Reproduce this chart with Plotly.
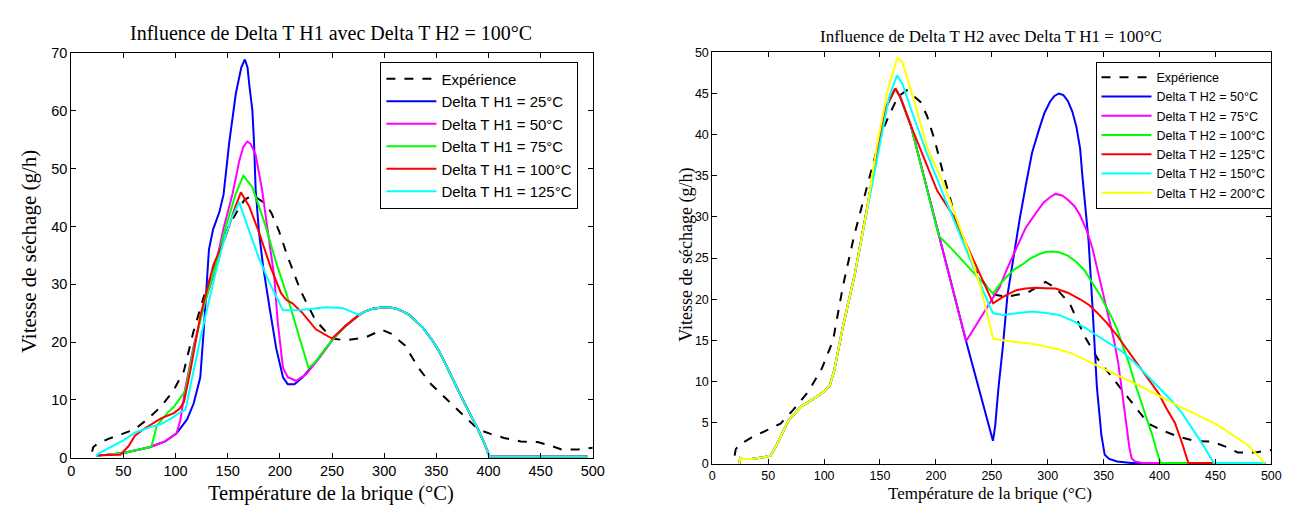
import plotly.graph_objects as go

# ---------------- data : experiment (shared by both panels) ----------------
exp_x = [20, 21, 25, 35, 49, 61, 72, 86, 98, 108, 117, 127, 139, 151, 158, 166, 174, 186, 192, 199,
         207, 213, 220, 234, 250, 263, 282, 298, 307, 320, 333, 345, 361, 377, 390, 402, 415, 431,
         447, 459, 470, 486, 500]
exp_y = [1.0, 1.8, 2.4, 3.2, 4.1, 4.9, 6.5, 8.8, 11.6, 15.0, 21.7, 27.8, 34.0, 40.1, 42.3, 44.6, 45.4,
         44.0, 42.3, 39.3, 35.0, 32.0, 28.8, 23.8, 20.6, 20.3, 20.8, 22.1, 21.4, 19.4, 15.5, 12.7, 9.9,
         7.2, 4.9, 4.1, 3.4, 2.8, 2.7, 2.1, 1.4, 1.4, 1.7]

# ---------------- data : left panel (Delta T H2 = 100 °C) ----------------
tail_x = [263, 270, 276, 282, 288, 296, 304, 311, 318, 324, 329, 337, 345, 352, 358, 365, 371, 376,
          381, 386, 390, 396, 401, 495]
tail_y = [22.8, 23.9, 24.7, 25.3, 25.7, 25.95, 26.0, 25.8, 25.3, 24.7, 23.9, 22.5, 20.6, 18.6, 16.5,
          14.0, 11.6, 9.8, 8.0, 6.4, 4.9, 2.5, 0.2, 0.2]

h1_25_x = [24, 50, 75, 90, 101, 111, 117.4, 123.7, 127, 129.5, 132, 136, 142, 146, 151.5, 157.8, 163,
           166.4, 169, 171, 173.6, 175.2, 176.8, 180, 184, 190, 196.5, 203, 207.6, 214, 221.8, 234.5, 250]
h1_25_y = [0.3, 0.8, 1.8, 2.8, 4.2, 6.6, 9.4, 13.9, 22, 30, 36, 39.5, 42.5, 45.5, 54.6, 63, 67.5,
           68.9, 67.5, 64, 60.2, 54.6, 46.3, 39, 33, 26.1, 18.9, 13.9, 12.7, 12.7, 13.9, 16.6, 20.3]

h1_50_x = [24, 50, 75, 90, 101, 104.7, 109.5, 117.4, 126.9, 136.4, 145.9, 154.7, 161, 165, 168.8, 172,
           176.8, 183, 189.4, 194.5, 198, 203, 207.6, 215.5, 225, 237.7, 250]
h1_50_y = [0.3, 0.8, 1.8, 2.8, 4.2, 6.6, 12.2, 19.4, 26.1, 31.7, 39.6, 45.7, 51.3, 53.8, 54.7, 54.3,
           52.4, 46.3, 37.9, 31.5, 23.4, 15.5, 13.9, 13.3, 14.4, 17.2, 20.3]

h1_75_x = [24, 50, 75, 77, 82, 92, 98.4, 109.5, 117.4, 126.9, 139.6, 148.4, 157.8, 165, 173.6, 186.3,
           196, 206, 227.5, 234.5, 242, 250]
h1_75_y = [0.3, 0.8, 1.8, 2.0, 5.5, 7.7, 8.8, 11.6, 18.9, 26.1, 34.0, 40.1, 45.7, 48.8, 46.8, 40.1,
           34.0, 28.5, 15.5, 16.6, 18.5, 20.3]

h1_100_x = [24, 47, 55, 61, 70, 80, 86, 98.4, 104, 108, 114.2, 123.7, 136.4, 148.4, 156.3, 162.6,
            170.5, 180, 191, 201, 206, 212, 221.8, 234.5, 250]
h1_100_y = [0.4, 0.5, 2.0, 3.8, 5.0, 6.2, 6.8, 7.7, 8.5, 9.6, 15.0, 24.5, 33.4, 38.4, 42.9, 45.9,
            43.5, 39.0, 33.0, 28.5, 27.3, 26.7, 25.0, 22.2, 20.6]

h1_125_x = [24, 26, 50, 61, 76, 86, 96, 104, 109.5, 114.2, 123.7, 136.4, 145.2, 153.1, 161, 168.8,
            180, 189.4, 193.4, 203, 218.7, 244, 259.8, 275.6]
h1_125_y = [0.2, 0.7, 3.0, 4.3, 5.3, 5.8, 6.8, 7.8, 8.3, 12.2, 20.6, 30.5, 36.8, 41.2, 44.2, 40.1,
            34.5, 30.5, 29.0, 25.5, 25.5, 26.0, 25.9, 24.7]

# ---------------- data : right panel (Delta T H1 = 100 °C) ----------------
rise_x = [24, 25, 26, 35, 46, 52, 57.6, 68.6, 79.7, 94, 101.7, 105, 109, 116.4, 127.4, 133.4, 138.4]
rise_y = [0, 0.7, 0.6, 0.6, 0.8, 1.0, 2.3, 5.4, 7.0, 8.2, 9.0, 9.5, 11.3, 16.4, 23.0, 27.2, 31.0]

h2_50_x = [148, 156, 163.7, 168, 177.6, 202.6, 227, 251, 253, 256, 260, 264, 268.8, 275, 280.6, 286,
           292.4, 297, 302, 306, 310, 314, 318, 322, 325.6, 329, 331, 334, 336.6, 340, 344, 348, 351,
           355, 362, 375, 495]
h2_50_y = [38.5, 43.5, 45.6, 44.6, 41.1, 27.7, 14.9, 2.8, 4.6, 9.3, 14.4, 20.5, 24.6, 29.8, 34.0,
           37.8, 40.7, 42.6, 44.0, 44.7, 45.0, 44.8, 44.1, 42.8, 41.0, 38.3, 35.0, 31.0, 27.0, 19.2, 9.3,
           3.5, 1.1, 0.6, 0.3, 0.1, 0.1]

h2_75_x = [148, 156, 163.7, 168, 177.6, 202.6, 227, 233, 239.4, 246, 251, 257, 264, 271.8, 280, 289.5,
           296, 302, 307, 313, 318, 324, 329, 335, 340, 345, 351, 355, 359, 363, 366, 370, 373, 375,
           378, 385, 495]
h2_75_y = [38.5, 43.5, 45.6, 44.6, 41.1, 27.7, 14.9, 16.2, 17.6, 19.2, 20.3, 21.5, 23.8, 26.2, 28.6,
           30.5, 31.7, 32.4, 32.8, 32.6, 32.1, 31.3, 30.2, 28.3, 26.2, 23.3, 20.0, 17.5, 15.2, 12.3,
           9.3, 5.0, 2.0, 0.7, 0.3, 0.1, 0.1]

h2_100_x = [148, 156, 163.7, 168, 177.6, 202.6, 215, 227.6, 240, 251, 257, 263, 270, 278, 285,
            292.6, 298, 303.6, 310, 318, 326, 333, 340, 347.6, 355, 362, 368, 373, 378, 384, 389,
            393.5, 397, 400.9, 495]
h2_100_y = [38.5, 43.5, 45.6, 44.6, 41.1, 27.7, 26.0, 24.2, 22.3, 20.7, 21.8, 22.7, 23.6, 24.3, 25.0,
            25.5, 25.75, 25.8, 25.7, 25.3, 24.5, 23.5, 22.0, 20.3, 18.4, 16.4, 14.0, 12.1, 9.8, 7.4,
            5.3, 3.5, 1.8, 0.1, 0.1]

h2_125_x = [148, 156, 163.7, 168, 177.6, 190, 201.1, 215.8, 233, 251.2, 260, 271.8, 280, 289.5, 298,
            307, 318, 329, 337, 344, 353, 362, 371, 380.7, 390, 399, 406, 413.7, 420, 425.8, 495]
h2_125_y = [38.5, 43.5, 45.6, 44.6, 41.1, 37.0, 33.2, 30.1, 24.9, 19.5, 20.3, 21.1, 21.3, 21.4, 21.35,
            21.3, 20.8, 20.0, 19.3, 18.4, 17.1, 15.6, 13.9, 12.1, 10.4, 8.6, 6.8, 5.0, 2.6, 0.1, 0.1]

h2_150_x = [148, 158, 165.2, 170, 180, 192.3, 207, 221.7, 235, 248.2, 251.2, 260, 272, 286.5, 300,
            310, 322, 334, 344, 355, 366, 377, 388, 399, 410, 420, 428, 438, 448.6, 495]
h2_150_y = [37.5, 44.5, 47.2, 46.2, 42.2, 37.6, 32.6, 27.7, 23.3, 19.1, 18.3, 18.1, 18.3, 18.5, 18.3,
            18.1, 17.4, 16.5, 15.6, 14.7, 13.7, 12.4, 10.9, 9.4, 7.8, 6.2, 4.6, 2.5, 0.1, 0.1]

h2_200_x = [147, 157, 165.5, 170, 180, 192.3, 207, 218, 230.6, 240, 251.2, 265.9, 286.5, 300, 310,
            322, 344, 366, 388, 410, 430, 451, 479, 494]
h2_200_y = [38.5, 45.5, 49.3, 48.8, 44.4, 38.4, 34.0, 30.0, 25.4, 21.5, 15.2, 14.9, 14.6, 14.2, 13.9,
            13.4, 12.0, 10.6, 9.1, 7.5, 6.2, 4.8, 2.3, 0.1]

left_names = ["Delta T H1 = 25°C", "Delta T H1 = 50°C", "Delta T H1 = 75°C",
              "Delta T H1 = 100°C", "Delta T H1 = 125°C"]
right_names = ["Delta T H2 = 50°C", "Delta T H2 = 75°C", "Delta T H2 = 100°C",
               "Delta T H2 = 125°C", "Delta T H2 = 150°C", "Delta T H2 = 200°C"]
colors = ["#0000FF", "#FF00FF", "#00FF00", "#FF0000", "#00FFFF", "#FFFF00"]

x_ticks = [0, 50, 100, 150, 200, 250, 300, 350, 400, 450, 500]
y_ticks_left = [0, 10, 20, 30, 40, 50, 60, 70]
y_ticks_right = [0, 5, 10, 15, 20, 25, 30, 35, 40, 45, 50]

# ---------------- figure ----------------
fig = go.Figure()
W, H = 1302, 507

fig.add_trace(go.Scatter(x=exp_x, y=exp_y, mode="lines", name="Expérience",
                         line=dict(color="black", width=2, dash="dash"),
                         xaxis="x", yaxis="y", legend="legend", legendgroup="l0"))
left_sets = [(h1_25_x, h1_25_y), (h1_50_x, h1_50_y), (h1_75_x, h1_75_y),
             (h1_100_x, h1_100_y), (h1_125_x, h1_125_y)]
for i, (xs, ys) in enumerate(left_sets):
    k = sum(1 for v in tail_x if v <= xs[-1])
    xx, yy = xs + tail_x[k:], ys + tail_y[k:]
    fig.add_trace(go.Scatter(x=xx, y=yy, mode="lines", name=left_names[i],
                             line=dict(color=colors[i], width=2),
                             xaxis="x", yaxis="y", legend="legend", legendgroup="l%d" % (i + 1)))

fig.add_trace(go.Scatter(x=exp_x, y=exp_y, mode="lines", name="Expérience",
                         line=dict(color="black", width=2, dash="dash"),
                         xaxis="x2", yaxis="y2", legend="legend2", legendgroup="r0"))
right_sets = [(h2_50_x, h2_50_y), (h2_75_x, h2_75_y), (h2_100_x, h2_100_y),
              (h2_125_x, h2_125_y), (h2_150_x, h2_150_y), (h2_200_x, h2_200_y)]
for i, (xs, ys) in enumerate(right_sets):
    k = sum(1 for v in rise_x if v < xs[0])
    xx, yy = rise_x[:k] + xs, rise_y[:k] + ys
    fig.add_trace(go.Scatter(x=xx, y=yy, mode="lines", name=right_names[i],
                             line=dict(color=colors[i], width=2),
                             xaxis="x2", yaxis="y2", legend="legend2", legendgroup="r%d" % (i + 1)))

tickfont_l = dict(family="Liberation Sans, Arial", size=14.5, color="black")
tickfont_r = dict(family="Liberation Sans, Arial", size=12.5, color="black")
axis_common = dict(showline=True, linecolor="black", linewidth=1, mirror="allticks",
                   ticks="inside", ticklen=5, tickcolor="black", showgrid=False, zeroline=False)

fig.update_layout(
    width=W, height=H,
    margin=dict(l=0, r=0, t=0, b=0),
    paper_bgcolor="white", plot_bgcolor="white",
    xaxis=dict(domain=[60 / W, 588 / W], range=[0, 500], tickvals=x_ticks, tickfont=tickfont_l,
               anchor="y", **axis_common),
    yaxis=dict(domain=[(H - 456) / H, (H - 38.3) / H], range=[0, 70], tickvals=y_ticks_left,
               tickfont=tickfont_l, anchor="x", **axis_common),
    xaxis2=dict(domain=[709 / W, 1275 / W], range=[0, 500], tickvals=x_ticks, tickfont=tickfont_r,
                anchor="y2", **axis_common),
    yaxis2=dict(domain=[(H - 462.5) / H, (H - 37.5) / H], range=[0, 50], tickvals=y_ticks_right,
                tickfont=tickfont_r, anchor="x2", **axis_common),
    legend=dict(x=373 / W, y=(H - 47) / H, xanchor="left", yanchor="top",
                bgcolor="white", bordercolor="black", borderwidth=1,
                font=dict(family="Liberation Sans, Arial", size=15, color="black"),
                itemwidth=50, tracegroupgap=0, traceorder="normal"),
    legend2=dict(x=1097 / W, y=(H - 47) / H, xanchor="left", yanchor="top",
                 bgcolor="white", bordercolor="black", borderwidth=1,
                 font=dict(family="Liberation Sans, Arial", size=12.5, color="black"),
                 itemwidth=50, tracegroupgap=0, traceorder="normal"),
    showlegend=True,
)

serif = "Liberation Serif, Times New Roman"
ann = [
    dict(text="Influence de Delta T H1 avec Delta T H2 = 100°C", x=323 / W, y=(H - 18) / H,
         font=dict(family=serif, size=20, color="black")),
    dict(text="Influence de Delta T H2 avec Delta T H1 = 100°C", x=991 / W, y=(H - 21) / H,
         font=dict(family=serif, size=17, color="black")),
    dict(text="Température de la brique (°C)", x=323 / W, y=(H - 493) / H,
         font=dict(family=serif, size=20.5, color="black")),
    dict(text="Température de la brique (°C)", x=990 / W, y=(H - 493) / H,
         font=dict(family=serif, size=17, color="black")),
    dict(text="Vitesse de séchage (g/h)", x=18 / W, y=(H - 243) / H, textangle=-90,
         font=dict(family=serif, size=21, color="black")),
    dict(text="Vitesse de séchage (g/h)", x=683 / W, y=(H - 247) / H, textangle=-90,
         font=dict(family=serif, size=18, color="black")),
]
for a in ann:
    fig.add_annotation(xref="paper", yref="paper", showarrow=False, xanchor="center",
                       yanchor="middle", **a)

fig.write_html("out.html")
